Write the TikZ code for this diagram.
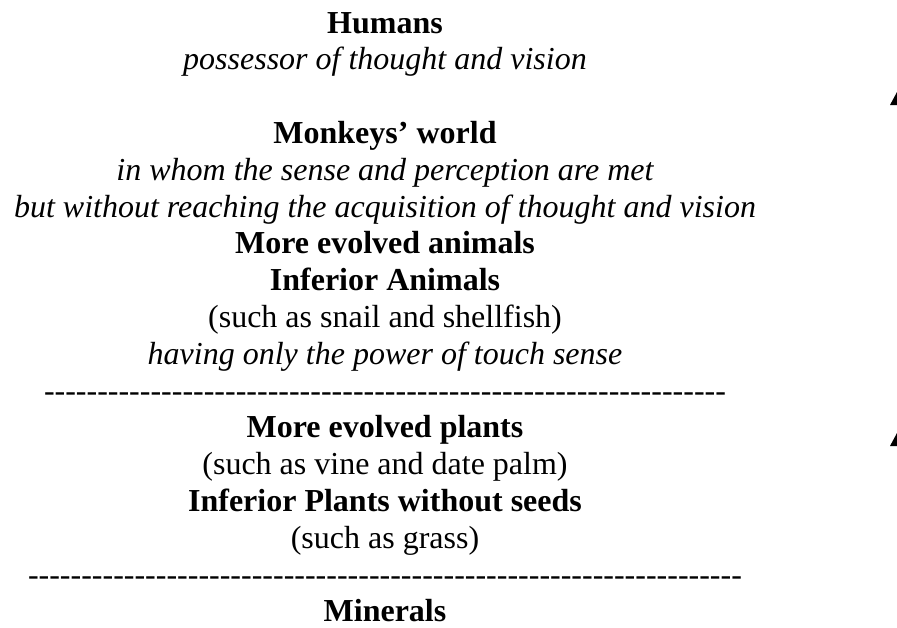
\documentclass[tikz,border=0pt]{standalone}
\usepackage{fontspec}
\setmainfont{Liberation Serif}
\usetikzlibrary{arrows.meta}
\newcommand{\hyphenrow}[1]{\foreach \k in {1,...,#1}{-\kern0pt}}

\begin{document}
\begin{tikzpicture}[
    x=1pt, y=-1pt,
    line/.style={anchor=base, inner sep=0pt, font=\fontsize{32}{38}\selectfont},
    head/.style={line, font=\fontsize{32}{38}\selectfont\bfseries},
    note/.style={line, font=\fontsize{32}{38}\selectfont\itshape},
    tip/.style={fill=black}
  ]
    \useasboundingbox (0,0) rectangle (897,627);

    \node[head] (humans) at (385,33) {Humans};
    \node[note] (humansnote) at (385,69.8) {possessor of thought and vision};

    \node[head] (monkeys) at (385,143.4) {Monkeys’ world};
    \node[note] (monkeysnote) at (385,180.2) {in whom the sense and perception are met};
    \node[note] (monkeysnote2) at (385,217) {but without reaching the acquisition of thought and vision};
    \node[head] (animals) at (385,253.8) {More evolved animals};
    \node[head] (lowanimals) at (385,290.6) {Inferior Animals};
    \node[line] (lowanimalsex) at (385,327.4) {(such as snail and shellfish)};
    \node[note] (lowanimalsnote) at (385,364.2) {having only the power of touch sense};
    \node[line] (sepA) at (385,401) {\hyphenrow{64}};

    \node[head] (plants) at (385,437.8) {More evolved plants};
    \node[line] (plantsex) at (385,474.6) {(such as vine and date palm)};
    \node[head] (lowplants) at (385,511.4) {Inferior Plants without seeds};
    \node[line] (lowplantsex) at (385,548.2) {(such as grass)};
    \node[line] (sepB) at (385,585) {\hyphenrow{67}};

    \node[head] (minerals) at (385,621.8) {Minerals};

    % arrow tips cut by the right edge
    \fill[tip] (890,105) -- (897,92) -- (904,105) -- cycle;
    \fill[tip] (890,446) -- (897,433) -- (904,446) -- cycle;
  \end{tikzpicture}
\end{document}
